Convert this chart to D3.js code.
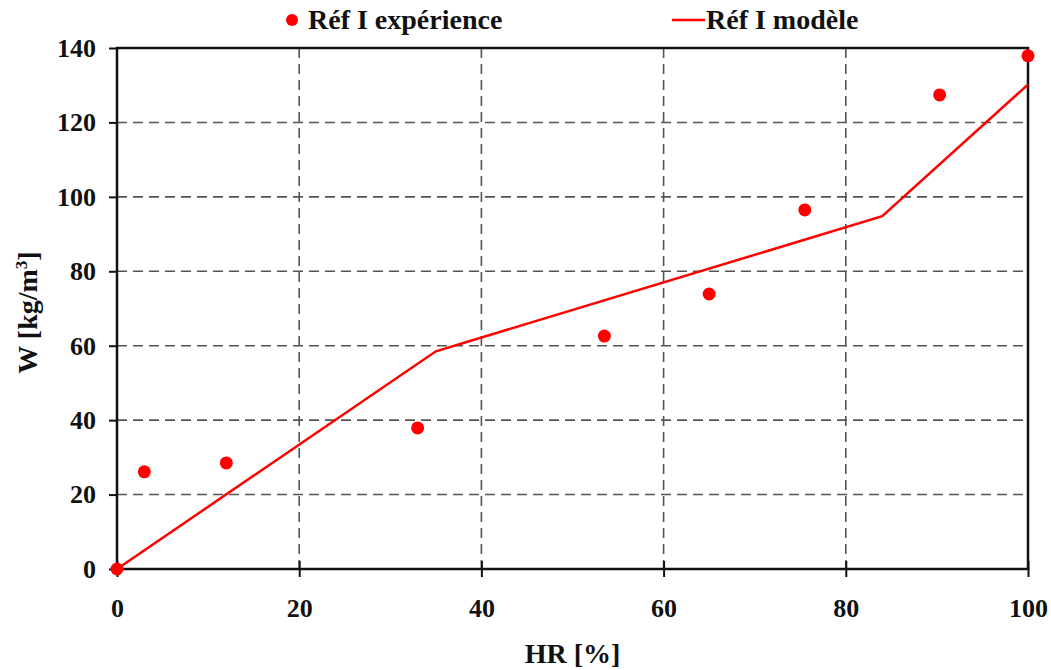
<!DOCTYPE html>
<html>
<head>
<meta charset="utf-8">
<script src="https://cdn.jsdelivr.net/npm/d3@7"></script>
<style>
body { margin: 0; background: #fff; }
text { font-family: "Liberation Serif", "DejaVu Serif", serif; font-weight: bold; fill: #111; }
</style>
</head>
<body>
<svg></svg>
<script>
// experimental points (HR %, W kg/m3)
var expHR = [0, 3, 12, 33, 53.5, 65, 75.5, 90.3, 100]
var expW = [0, 26.1, 28.5, 37.9, 62.6, 73.9, 96.5, 127.4, 137.9]
// model curve
var modHR = [0, 35, 84, 100]
var modW = [0, 58.5, 94.8, 130.2]
var xTicks = [0, 20, 40, 60, 80, 100]
var yTicks = [0, 20, 40, 60, 80, 100, 120, 140]

var screen = { width: 1051, height: 670 }
var margins = { left: 117, right: 23, top: 48, bottom: 101 }
var graph = {
    width: screen.width - margins.left - margins.right,
    height: screen.height - margins.top - margins.bottom
}

var svg = d3.select("svg")
    .attr("width", screen.width)
    .attr("height", screen.height)

var xScale = d3.scaleLinear().domain([0, 100]).range([0, graph.width])
var yScale = d3.scaleLinear().domain([0, 140]).range([graph.height, 0])

var target = svg.append("g")
    .attr("transform", "translate(" + margins.left + "," + margins.top + ")")

// dashed grid
var grid = target.append("g")
    .attr("stroke", "#555")
    .attr("stroke-width", 1.6)
    .attr("stroke-dasharray", "10,6")
grid.selectAll(".v")
    .data(xTicks.slice(1, -1))
    .enter().append("line")
    .attr("x1", function (d) { return xScale(d) })
    .attr("x2", function (d) { return xScale(d) })
    .attr("y1", 0)
    .attr("y2", graph.height)
grid.selectAll(".h")
    .data(yTicks.slice(1, -1))
    .enter().append("line")
    .attr("x1", 0)
    .attr("x2", graph.width)
    .attr("y1", function (d) { return yScale(d) })
    .attr("y2", function (d) { return yScale(d) })

// axes
var yAxis = d3.axisLeft(yScale).tickValues(yTicks).tickSize(8).tickPadding(13)
var xAxis = d3.axisBottom(xScale).tickValues(xTicks).tickSize(8).tickPadding(22)

var yg = target.append("g").call(yAxis)
var xg = target.append("g")
    .attr("transform", "translate(0," + graph.height + ")")
    .call(xAxis)
xg.selectAll(".tick line").attr("y1", -8)

;[yg, xg].forEach(function (g) {
    g.select(".domain").remove()
    g.selectAll(".tick line").attr("stroke", "#111").attr("stroke-width", 2)
    g.selectAll("text")
        .style("font-size", "26px")
        .style("font-family", "Liberation Serif, serif")
        .style("font-weight", "bold")
        .attr("fill", "#111")
})

// frame
target.append("rect")
    .attr("width", graph.width)
    .attr("height", graph.height)
    .attr("fill", "none")
    .attr("stroke", "#111")
    .attr("stroke-width", 2.5)

// model line
var lineGenerator = d3.line()
    .x(function (d) { return xScale(d[0]) })
    .y(function (d) { return yScale(d[1]) })
target.append("path")
    .datum(modHR.map(function (h, i) { return [h, modW[i]] }))
    .attr("d", lineGenerator)
    .attr("fill", "none")
    .attr("stroke", "#ff0000")
    .attr("stroke-width", 2.5)

// experiment points
target.selectAll(".pt")
    .data(expHR.map(function (h, i) { return [h, expW[i]] }))
    .enter().append("circle")
    .attr("cx", function (d) { return xScale(d[0]) })
    .attr("cy", function (d) { return yScale(d[1]) })
    .attr("r", 6.5)
    .attr("fill", "#ff0000")

// labels
var labels = svg.append("g")
labels.append("text")
    .text("HR [%]")
    .attr("text-anchor", "middle")
    .attr("x", margins.left + graph.width / 2)
    .attr("y", 663)
    .style("font-size", "28px")

var yl = labels.append("text")
    .attr("text-anchor", "middle")
    .attr("transform", "translate(37," + (margins.top + graph.height / 2 + 4) + ") rotate(-90)")
    .style("font-size", "28px")
yl.append("tspan").text("W [kg/m")
yl.append("tspan").text("3").attr("dy", -10).style("font-size", "17px")
yl.append("tspan").text("]").attr("dy", 10)

// legend
var legend = svg.append("g")
legend.append("circle")
    .attr("cx", 292).attr("cy", 20).attr("r", 6)
    .attr("fill", "#ff0000")
legend.append("text")
    .text("Réf I expérience")
    .attr("x", 308).attr("y", 29)
    .style("font-size", "28px")
legend.append("line")
    .attr("x1", 672).attr("x2", 705)
    .attr("y1", 20).attr("y2", 20)
    .attr("stroke", "#ff0000")
    .attr("stroke-width", 2.5)
legend.append("text")
    .text("Réf I modèle")
    .attr("x", 706).attr("y", 29)
    .style("font-size", "28px")
</script>
</body>
</html>
